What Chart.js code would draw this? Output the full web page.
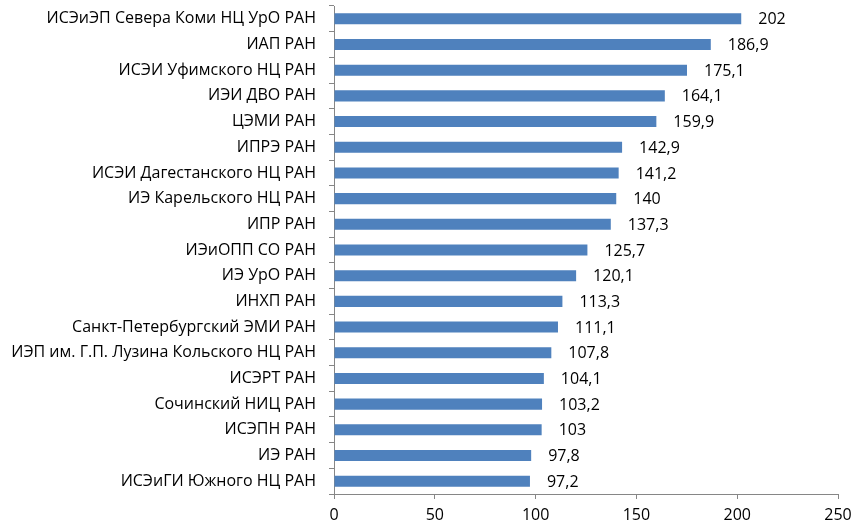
<!DOCTYPE html>
<html>
<head>
<meta charset="utf-8">
<script src="https://cdn.jsdelivr.net/npm/chart.js@4"></script>
<style>
  html, body { margin: 0; padding: 0; background: #fff; }
  #wrap { width: 856px; height: 526px; }
</style>
</head>
<body>
<div id="wrap"><canvas id="chart" width="856" height="526"></canvas></div>
<script>
// институты сверху вниз
const institutes = [
  'ИСЭиЭП Севера Коми НЦ УрО РАН',
  'ИАП РАН',
  'ИСЭИ Уфимского НЦ РАН',
  'ИЭИ ДВО РАН',
  'ЦЭМИ РАН',
  'ИПРЭ РАН',
  'ИСЭИ Дагестанского НЦ РАН',
  'ИЭ Карельского НЦ РАН',
  'ИПР РАН',
  'ИЭиОПП СО РАН',
  'ИЭ УрО РАН',
  'ИНХП РАН',
  'Санкт-Петербургский ЭМИ РАН',
  'ИЭП им. Г.П. Лузина Кольского НЦ РАН',
  'ИСЭРТ РАН',
  'Сочинский НИЦ РАН',
  'ИСЭПН РАН',
  'ИЭ РАН',
  'ИСЭиГИ Южного НЦ РАН'
]
const values = [202, 186.9, 175.1, 164.1, 159.9, 142.9, 141.2, 140, 137.3, 125.7, 120.1, 113.3, 111.1, 107.8, 104.1, 103.2, 103, 97.8, 97.2]
const xTicks = [0, 50, 100, 150, 200, 250]

const FONT = '"Open Sans", sans-serif'

// подписи значений справа от столбцов (запятая как в оригинале)
const valueLabels = {
  id: 'valueLabels',
  afterDatasetsDraw(chart) {
    const ctx = chart.ctx
    const meta = chart.getDatasetMeta(0)
    ctx.save()
    ctx.font = '16px ' + FONT
    ctx.fillStyle = '#000'
    ctx.textAlign = 'left'
    ctx.textBaseline = 'middle'
    meta.data.forEach((bar, i) => {
      const txt = String(values[i]).replace('.', ',')
      ctx.fillText(txt, bar.x + 17, bar.y + 1)
    })
    ctx.restore()
  }
}

// убираем автоматические отступы осей, отступы задаём через layout
function noPad(axis) {
  axis.paddingTop = 0
  axis.paddingBottom = 0
  axis.paddingLeft = 0
  axis.paddingRight = 0
}

new Chart(document.getElementById('chart'), {
  type: 'bar',
  data: {
    labels: institutes,
    datasets: [{
      data: values,
      backgroundColor: '#4F81BD',
      borderWidth: 0,
      categoryPercentage: 1,
      barPercentage: 0.43
    }]
  },
  options: {
    indexAxis: 'y',
    responsive: false,
    animation: false,
    layout: { padding: { left: 0, right: 18, top: 6, bottom: 0 } },
    plugins: { legend: { display: false }, tooltip: { enabled: false } },
    scales: {
      x: {
        min: 0,
        max: 250,
        afterBuildTicks(axis) { axis.ticks = xTicks.map(v => ({ value: v })) },
        afterFit(axis) { axis.height = 32; noPad(axis) },
        grid: { drawOnChartArea: false, drawTicks: true, tickLength: 5, color: '#868686' },
        border: { color: '#868686', width: 1 },
        ticks: { font: { family: FONT, size: 16 }, color: '#000', padding: 7, maxRotation: 0 }
      },
      y: {
        afterFit(axis) { axis.width = 334; noPad(axis) },
        grid: { drawOnChartArea: false, drawTicks: true, tickLength: 5, color: '#868686', offset: true },
        border: { color: '#868686', width: 1 },
        ticks: { font: { family: FONT, size: 16 }, color: '#000', padding: 13, autoSkip: false }
      }
    }
  },
  plugins: [valueLabels]
})
</script>
</body>
</html>
